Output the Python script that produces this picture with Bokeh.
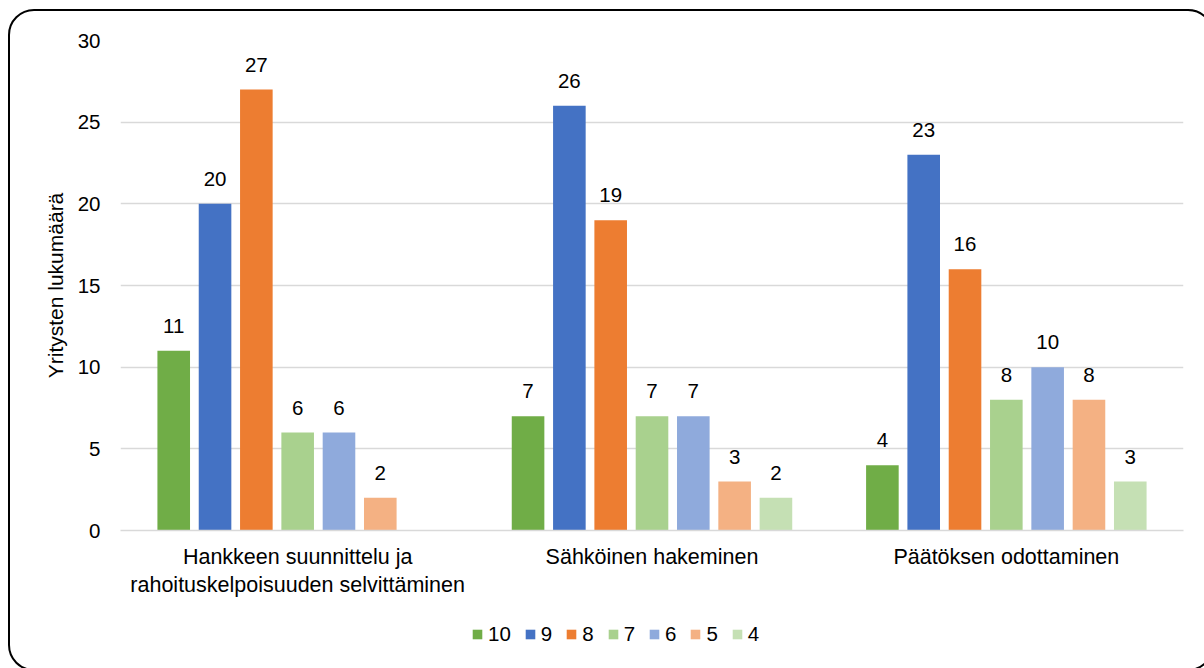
import math

from bokeh.plotting import figure
from bokeh.layouts import column
from bokeh.models import (ColumnDataSource, FactorRange, Range1d, Legend, LegendItem,
                          FixedTicker, InlineStyleSheet)
from bokeh.transform import dodge
from bokeh.core.properties import value
from bokeh.embed import file_html
from bokeh.resources import INLINE

# --- data -------------------------------------------------------------
categories = [
    "Hankkeen suunnittelu ja\nrahoituskelpoisuuden selvittäminen",
    "Sähköinen hakeminen",
    "Päätöksen odottaminen",
]
series_names = ["10", "9", "8", "7", "6", "5", "4"]
colors = ["#70ad47", "#4472c4", "#ed7d31", "#a9d18e", "#8faadc", "#f4b183", "#c5e0b4"]

s10 = [11, 7, 4]
s9 = [20, 26, 23]
s8 = [27, 19, 16]
s7 = [6, 7, 8]
s6 = [6, 7, 10]
s5 = [2, 3, 8]
s4 = [None, 2, 3]
series_values = [s10, s9, s8, s7, s6, s5, s4]

y_ticks = [0, 5, 10, 15, 20, 25, 30]
y_label = "Yritysten lukumäärä"

FONT = "Liberation Sans"
TEXT = "#000000"
GRID = "#d9d9d9"

# rounded outline drawn around the whole chart area
outline_css = InlineStyleSheet(css="""
:host { overflow: hidden; }
:host::after {
  content: "";
  position: absolute;
  left: 8px; top: 9px;
  width: 1206px; height: 662px;
  box-sizing: border-box;
  border: 2.5px solid #000;
  border-radius: 26px;
  pointer-events: none;
  z-index: 10;
}
""")

# --- main chart -------------------------------------------------------
p = figure(
    width=1204, height=600,
    x_range=FactorRange(*categories, range_padding=0),
    y_range=Range1d(0, 30),
    output_backend="svg", toolbar_location=None,
    min_border_left=120, min_border_right=21,
    min_border_top=40, min_border_bottom=68,
)
p.outline_line_color = None
p.background_fill_color = "white"
p.border_fill_color = "white"

p.xgrid.grid_line_color = None
p.ygrid.grid_line_color = GRID
p.ygrid.grid_line_width = 1.3

p.yaxis.ticker = FixedTicker(ticks=y_ticks)
p.yaxis.axis_line_color = None
p.yaxis.major_tick_line_color = None
p.yaxis.minor_tick_line_color = None
p.yaxis.major_tick_out = 0
p.yaxis.major_tick_in = 0
p.yaxis.major_label_standoff = 20
p.yaxis.major_label_text_font = FONT
p.yaxis.major_label_text_font_size = "20.5px"
p.yaxis.major_label_text_color = TEXT
p.yaxis.axis_label = y_label
p.yaxis.axis_label_text_font = FONT
p.yaxis.axis_label_text_font_size = "21px"
p.yaxis.axis_label_text_font_style = "normal"
p.yaxis.axis_label_text_color = TEXT
p.yaxis.axis_label_standoff = 8

p.xaxis.axis_line_color = GRID
p.xaxis.axis_line_width = 1.3
p.xaxis.major_tick_line_color = None
p.xaxis.major_tick_out = 0
p.xaxis.major_tick_in = 0
p.xaxis.major_label_standoff = 14
p.xaxis.major_label_text_font = FONT
p.xaxis.major_label_text_font_size = "21.5px"
p.xaxis.major_label_text_color = TEXT

n = len(series_names)
step = 0.1166
bar_w = 0.092
for i, (vals, col) in enumerate(zip(series_values, colors)):
    tops = [math.nan if v is None else v for v in vals]
    labels = ["" if v is None else str(v) for v in vals]
    src = ColumnDataSource(dict(x=categories, top=tops, label=labels))
    off = (i - (n - 1) / 2) * step
    p.vbar(x=dodge("x", off, range=p.x_range), top="top", width=bar_w,
           source=src, fill_color=col, line_color=None)
    p.text(x=dodge("x", off, range=p.x_range), y="top", text="label", source=src,
           text_font=value(FONT), text_font_size="20.5px", text_color=TEXT,
           text_align="center", text_baseline="alphabetic", y_offset=-25)

# --- legend strip -----------------------------------------------------
lg = figure(
    width=1204, height=68, x_range=Range1d(0, 1), y_range=Range1d(0, 1),
    output_backend="svg", toolbar_location=None,
    x_axis_location=None, y_axis_location=None,
    min_border_left=120, min_border_right=21, min_border_top=0, min_border_bottom=0,
)
lg.outline_line_color = None
lg.grid.grid_line_color = None
lg.border_fill_color = "white"

# swatch renderers sit outside the visible range; only their legend glyphs show
legend_items = []
for name, col in zip(series_names, colors):
    r = lg.vbar(x=[-5], top=[-5], bottom=[-6], width=0.1, fill_color=col, line_color=None)
    legend_items.append(LegendItem(label=name, renderers=[r]))

legend = Legend(
    items=legend_items, orientation="horizontal", location=(351, 22),
    glyph_width=12, glyph_height=12, label_standoff=5, spacing=13,
    label_width=0, padding=0, margin=0,
    label_text_font=FONT, label_text_font_size="20.5px", label_text_color=TEXT,
    border_line_color=None, background_fill_alpha=0,
)
lg.add_layout(legend)

layout = column(p, lg, spacing=0, stylesheets=[outline_css])

open("out.html", "w").write(file_html(layout, INLINE))
